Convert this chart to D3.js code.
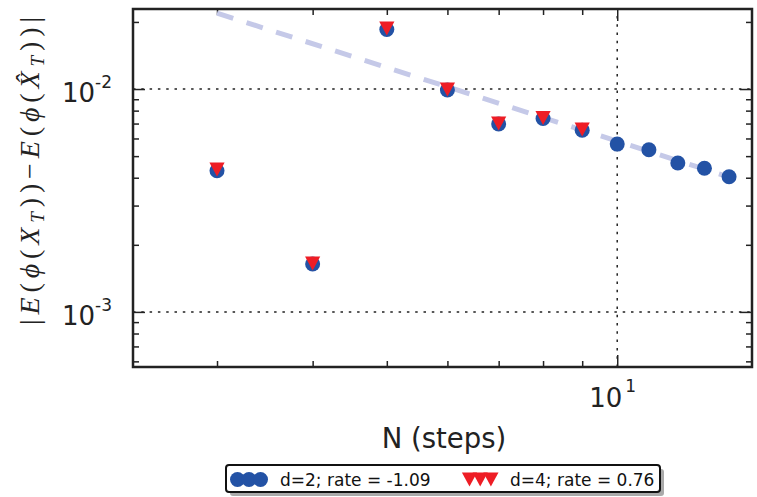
<!DOCTYPE html>
<html>
<head>
<meta charset="utf-8">
<script src="https://cdn.jsdelivr.net/npm/d3@7"></script>
<style>
  body { margin: 0; background: #fff; }
  svg { display: block; }
</style>
</head>
<body>
<div class="main"></div>
<script>
// Chart data
const stepsD2 = [3, 4, 5, 6, 7, 8, 9, 10, 11, 12, 13, 14];
const errD2 = [4.30e-3, 1.64e-3, 1.85e-2, 9.9e-3, 6.97e-3, 7.38e-3, 6.54e-3, 5.66e-3, 5.34e-3, 4.66e-3, 4.41e-3, 4.04e-3];
const stepsD4 = [3, 4, 5, 6, 7, 8, 9];
const errD4 = [4.35e-3, 1.65e-3, 1.87e-2, 9.95e-3, 7.0e-3, 7.42e-3, 6.58e-3];
const fitSteps = [3, 14];
const fitErr = [0.0219, 0.00403];
const xMajor = [10];
const xMinor = [3, 4, 5, 6, 7, 8, 9];
const yMajor = [1e-3, 1e-2];
const yMinor = [6e-4, 7e-4, 8e-4, 9e-4, 2e-3, 3e-3, 4e-3, 5e-3, 6e-3, 7e-3, 8e-3, 9e-3, 2e-2];
const xTickLabels = [{ base: '10', exp: '1' }];
const yTickLabels = [{ base: '10', exp: '-3' }, { base: '10', exp: '-2' }];
const legendLabels = ['d=2; rate = -1.09', 'd=4; rate = 0.76'];

// Layout
const width = 757;
const height = 497;
const margin = { top: 9, right: 5, bottom: 130, left: 133 };
const blue = '#2352a5';
const red = '#ee1d25';
const ink = '#222';

const svg = d3.select('.main')
  .append('svg')
  .attr('width', width)
  .attr('height', height)
  .style('font-family', '"DejaVu Sans", sans-serif');

const x = d3.scaleLog()
  .domain([2.33, 15])
  .range([margin.left, width - margin.right]);

const y = d3.scaleLog()
  .domain([5.66e-4, 0.02286])
  .range([height - margin.bottom, margin.top]);

const x0 = x.range()[0], x1 = x.range()[1];
const y0 = y.range()[0], y1 = y.range()[1];

// Dotted grid on major ticks
const grid = svg.append('g')
  .attr('stroke', ink)
  .attr('stroke-width', 1.5)
  .attr('stroke-dasharray', '2.5,5.8');
grid.selectAll('.gx').data(xMajor).enter().append('line')
  .attr('x1', d => x(d)).attr('x2', d => x(d))
  .attr('y1', y0).attr('y2', y1);
grid.selectAll('.gy').data(yMajor).enter().append('line')
  .attr('x1', x0).attr('x2', x1)
  .attr('y1', d => y(d)).attr('y2', d => y(d));

// Ticks on all four sides, pointing inward
function ticks(axis, vals, size, tr) {
  svg.append('g')
    .attr('transform', tr)
    .call(axis.tickValues(vals).tickSize(-size).tickFormat(''))
    .call(g => g.select('.domain').remove())
    .call(g => g.selectAll('line').attr('stroke', ink).attr('stroke-width', 1.5));
}
ticks(d3.axisBottom(x), xMinor, 6, `translate(0,${y0})`);
ticks(d3.axisBottom(x), xMajor, 12, `translate(0,${y0})`);
ticks(d3.axisTop(x), xMinor, 6, `translate(0,${y1})`);
ticks(d3.axisTop(x), xMajor, 12, `translate(0,${y1})`);
ticks(d3.axisLeft(y), yMinor, 6, `translate(${x0},0)`);
ticks(d3.axisLeft(y), yMajor, 12, `translate(${x0},0)`);
ticks(d3.axisRight(y), yMinor, 6, `translate(${x1},0)`);
ticks(d3.axisRight(y), yMajor, 12, `translate(${x1},0)`);

// Tick labels with superscript exponents
const xl = svg.append('g').selectAll('text')
  .data(xMajor).enter().append('text')
  .attr('x', d => x(d) - 28)
  .attr('y', y0 + 40)
  .attr('fill', ink)
  .style('font-size', '26px');
xl.append('tspan').text((d, i) => xTickLabels[i].base);
xl.append('tspan').attr('dx', 3).attr('dy', -15).style('font-size', '17px')
  .text((d, i) => xTickLabels[i].exp);

const yl = svg.append('g').selectAll('text')
  .data(yMajor).enter().append('text')
  .attr('x', x0 - 71)
  .attr('y', d => y(d) + 12.7)
  .attr('fill', ink)
  .style('font-size', '26px');
yl.append('tspan').text((d, i) => yTickLabels[i].base);
yl.append('tspan').attr('dy', -13.5).style('font-size', '17px')
  .text((d, i) => yTickLabels[i].exp);

// Fitted rate line
svg.append('path')
  .datum(fitSteps.map((n, i) => [n, fitErr[i]]))
  .attr('d', d3.line().x(d => x(d[0])).y(d => y(d[1])))
  .attr('fill', 'none')
  .attr('stroke', '#c5c9e8')
  .attr('stroke-width', 5)
  .attr('stroke-dasharray', '17,14');

// d=2 points
svg.append('g')
  .selectAll('circle')
  .data(stepsD2)
  .enter()
  .append('circle')
  .attr('cx', d => x(d))
  .attr('cy', (d, i) => y(errD2[i]))
  .attr('r', 7.5)
  .attr('fill', blue);

// d=4 points
const tri = d3.symbol().type({ draw: (ctx) => {
  ctx.moveTo(-7.6, -7); ctx.lineTo(7.6, -7); ctx.lineTo(0, 7); ctx.closePath();
} });
svg.append('g')
  .selectAll('path')
  .data(stepsD4)
  .enter()
  .append('path')
  .attr('d', tri)
  .attr('transform', (d, i) => `translate(${x(d)},${y(errD4[i])})`)
  .attr('fill', red);

// Frame
svg.append('rect')
  .attr('x', x0).attr('y', y1)
  .attr('width', x1 - x0).attr('height', y0 - y1)
  .attr('fill', 'none')
  .attr('stroke', ink)
  .attr('stroke-width', 2.5);

// Axis titles
svg.append('text')
  .attr('x', 444)
  .attr('y', 448)
  .attr('text-anchor', 'middle')
  .attr('fill', ink)
  .style('font-size', '27.5px')
  .text('N (steps)');

const ylab = svg.append('text')
  .attr('transform', 'translate(39,171) rotate(-90)')
  .attr('text-anchor', 'middle')
  .attr('textLength', 308)
  .attr('lengthAdjust', 'spacing')
  .attr('fill', ink)
  .style('font-family', '"Liberation Serif", serif')
  .style('font-size', '28px');
const parts = [
  ['|', 'normal', 0], ['E', 'italic', 0], ['(', 'normal', 0], ['\u03d5', 'italic', 0],
  ['(', 'normal', 0], ['X', 'italic', 0], ['T', 'italic', 1], ['))', 'normal', 0],
  ['\u2212', 'normal', 0], ['E', 'italic', 0], ['(', 'normal', 0], ['\u03d5', 'italic', 0],
  ['(', 'normal', 0], ['X\u0302', 'italic', 0], ['T', 'italic', 1], ['))', 'normal', 0],
  ['|', 'normal', 0]
];
let prevSub = 0;
parts.forEach(p => {
  const t = ylab.append('tspan').text(p[0]).style('font-style', p[1]);
  if (p[2] !== prevSub) t.attr('dy', p[2] ? 5 : -5);
  if (p[2]) t.style('font-size', '19px');
  prevSub = p[2];
});

// Legend
const lg = svg.append('g');
lg.append('rect')
  .attr('x', 230).attr('y', 469).attr('width', 434).attr('height', 27)
  .attr('rx', 3).attr('fill', '#aaa');
lg.append('rect')
  .attr('x', 226).attr('y', 465).attr('width', 434).attr('height', 27)
  .attr('rx', 3).attr('fill', '#fff').attr('stroke', '#111').attr('stroke-width', 2);
lg.selectAll('circle').data([0, 1, 2]).enter().append('circle')
  .attr('cx', d => 237.5 + d * 11.5).attr('cy', 479.5).attr('r', 7.5).attr('fill', blue);
lg.selectAll('path').data([0, 1, 2]).enter().append('path')
  .attr('d', tri)
  .attr('transform', d => `translate(${469.5 + d * 10.7},479.5)`)
  .attr('fill', red);
lg.selectAll('text').data(legendLabels).enter().append('text')
  .attr('x', (d, i) => i ? 510 : 280)
  .attr('y', 485.5)
  .attr('fill', '#111')
  .style('font-size', '17px')
  .text(d => d);
</script>
</body>
</html>
